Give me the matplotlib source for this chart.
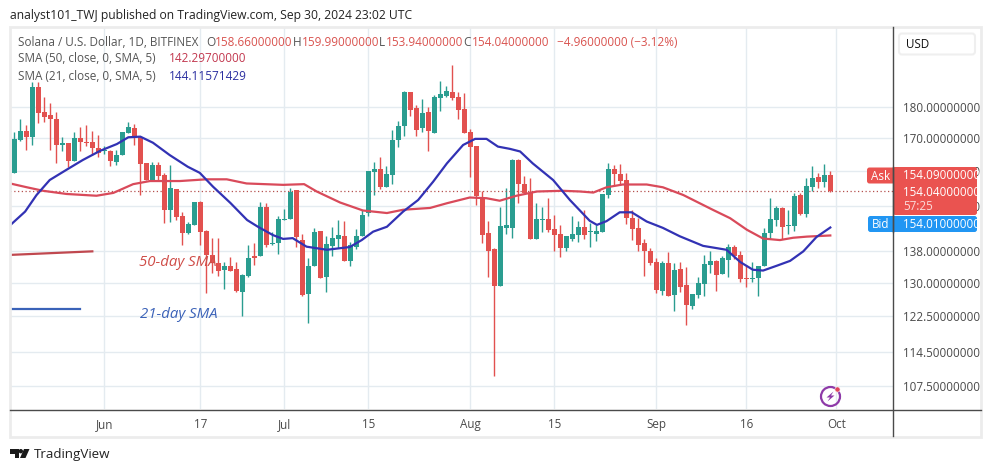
import matplotlib
matplotlib.use("Agg")
import matplotlib.pyplot as plt
from matplotlib.patches import FancyBboxPatch, Rectangle, Circle, Polygon
from matplotlib.ticker import NullLocator

opens = [159.3,169.2,172.3,170.2,186.6,178.2,177.4,175.9,167.8,168.5,163.0,169.9,168.8,168.7,166.8,165.9,166.0,162.7,164.7,171.6,
         173.2,170.2,162.2,157.3,161.7,158.8,148.9,154.7,147.2,142.6,144.8,151.0,143.3,137.0,135.0,133.3,134.3,133.5,128.0,131.8,
         136.6,136.6,149.6,139.8,140.0,146.2,146.3,154.3,140.8,127.5,134.1,143.2,131.6,139.3,141.1,141.8,135.5,139.1,141.8,148.0,
         159.5,160.6,155.4,158.8,169.2,173.8,185.0,179.6,173.0,178.3,171.6,183.1,183.8,185.0,183.3,179.3,171.8,167.5,152.4,142.6,
         138.6,129.4,144.0,144.0,163.2,156.1,153.7,141.1,146.2,146.3,143.8,142.3,138.8,141.0,142.2,144.3,142.9,142.5,142.9,153.0,
         160.6,159.1,157.3,146.6,144.0,140.0,138.0,135.1,128.2,134.9,127.2,133.5,129.6,124.6,127.2,129.8,134.5,135.5,132.3,135.7,
         139.0,137.0,131.3,131.1,131.3,134.1,142.6,146.1,149.5,144.6,144.5,153.0,147.8,155.4,158.2,156.7,158.66]
highs = [172.0,176.1,174.1,188.4,188.6,183.4,181.3,178.4,170.4,168.5,172.0,173.3,174.1,172.3,170.9,167.5,166.1,166.3,171.9,175.1,
         174.4,170.3,162.4,162.7,162.7,159.4,161.7,154.8,148.4,145.6,151.1,151.2,143.5,141.3,141.3,135.3,136.4,135.1,132.3,139.4,
         140.0,151.0,150.9,143.0,147.3,149.0,155.0,154.5,142.4,136.1,144.0,143.3,141.8,144.3,146.1,145.9,140.4,143.8,148.9,159.9,
         162.5,164.0,161.5,172.5,175.4,185.5,185.0,180.7,182.6,179.9,184.0,188.8,187.1,194.5,184.9,184.6,172.7,167.6,154.0,145.9,
         138.7,149.6,155.0,163.4,163.4,158.5,157.8,150.7,149.6,152.1,147.5,144.8,141.9,147.2,145.9,148.9,145.3,144.8,153.4,162.2,
         161.7,162.0,159.4,148.9,146.6,141.0,138.8,136.1,135.5,137.7,134.9,135.3,133.9,127.5,131.6,136.9,137.9,135.6,136.7,139.8,
         139.5,137.9,134.5,135.3,134.3,144.0,152.1,149.8,149.6,148.9,153.7,153.7,158.0,161.5,159.3,161.9,159.99]
lows = [159.3,168.9,166.3,167.8,174.8,175.1,166.3,162.4,165.8,161.2,163.0,165.8,167.6,164.7,164.0,165.1,161.5,161.7,164.7,171.5,
        167.8,153.0,157.3,157.1,157.3,145.2,145.5,146.1,139.5,142.5,144.8,139.5,127.7,132.6,131.8,128.7,132.9,128.0,122.5,131.6,
        134.5,136.6,139.1,139.5,137.2,146.1,146.3,139.1,127.1,120.9,134.1,131.4,128.0,136.6,138.7,135.5,134.1,138.6,141.8,147.3,
        152.9,154.7,155.2,156.2,167.3,170.6,177.0,170.6,171.8,165.8,171.6,178.7,183.4,182.3,175.9,171.6,158.3,150.3,140.0,131.5,
        109.5,129.4,142.5,141.4,150.9,153.5,141.1,141.1,143.0,142.8,137.9,136.4,137.9,140.6,140.4,141.0,138.9,140.6,142.9,152.3,
        155.6,155.9,145.0,140.8,138.0,131.8,134.5,127.7,127.2,127.1,123.6,128.0,120.4,123.9,126.6,127.1,132.6,128.2,132.3,131.6,
        135.9,130.4,129.1,130.2,127.1,134.1,141.0,144.5,141.0,142.4,143.3,147.5,146.8,154.0,155.0,155.4,153.94]
closes = [169.6,172.3,170.2,186.6,178.1,176.8,176.0,167.8,168.4,163.0,169.9,168.6,168.4,166.8,165.3,166.3,163.0,164.7,171.8,173.3,
          169.9,162.0,157.3,161.7,158.5,148.9,155.0,147.0,142.6,145.0,151.0,143.0,137.0,134.9,133.1,134.3,133.1,128.2,132.0,136.1,
          136.3,149.6,139.5,140.0,146.3,146.5,153.9,141.6,127.2,134.3,142.9,131.4,139.7,141.3,142.1,135.5,139.4,141.8,147.5,159.8,
          160.6,155.2,159.1,169.4,173.8,185.1,179.0,172.5,177.9,172.2,183.3,184.3,185.2,183.0,179.0,171.6,167.3,152.6,142.1,138.1,
          129.4,144.5,144.8,163.2,156.2,153.5,141.1,146.4,146.4,143.5,142.2,138.8,141.8,142.5,144.3,142.1,143.1,143.2,153.3,160.6,
          159.0,157.1,146.7,143.8,139.5,137.9,134.9,128.4,135.0,127.1,133.3,129.2,124.8,127.4,130.0,134.6,135.5,132.0,136.3,139.0,
          136.7,131.0,131.1,131.3,134.2,142.6,146.3,149.5,144.3,144.8,152.8,147.7,155.5,157.8,156.8,158.8,154.04]

sma21_x = [-0.7,1.8,3.7,5.9,8.7,11.4,14.3,17.1,19,21,23.1,25.9,28.9,30.9,33.1,36,38.8,40.6,43.1,44.8,46.4,48.7,52.1,55.9,57.9,59.8,62.1,
           64.8,67.3,69.8,72.1,74.8,76.8,78.7,80.6,82.6,84.3,86.4,89.8,92.6,95.9,97.1,98.7,100.9,102.9,105.4,108.1,110.9,114.8,118.7,
           121,123.1,124.8,127.1,129.3,131.5,133.7,136]
sma21_y = [144.7,148.4,153.0,157.3,160.3,163.2,166.0,168.1,170.2,170.4,168.5,164.7,161.2,159.4,155.4,150.8,146.1,144.3,142.1,141.1,141.3,
           139.1,138.3,139.0,140.8,143.0,144.3,148.4,151.6,156.8,162.2,167.8,169.7,169.7,167.3,166.6,165.8,162.2,157.3,151.6,145.9,144.8,
           145.8,148.2,148.2,145.7,144.0,141.8,139.3,138.3,135.2,133.3,133.1,134.3,135.5,137.9,141.6,144.1]
sma50_x = [-0.7,2.1,4.8,8.7,13.7,16.5,19.8,22.6,27.6,32,35.4,38.7,44.8,48.3,50.4,54.3,58.1,62.1,64.8,69.3,72.1,75.9,78.7,80.9,83.7,87.1,
           91.4,94.3,96.5,98.7,101.4,105.4,108.1,111.5,116.4,119.3,122.1,124.8,127.6,129.8,132.1,136]
sma50_y = [156.3,155.2,154.2,153.3,152.8,153.6,156.1,157.0,157.0,157.5,157.5,156.3,155.9,156.1,154.0,150.9,148.7,148.0,148.9,149.4,150.7,
           152.3,152.1,151.4,152.8,154.0,154.2,154.0,153.7,155.2,156.0,156.0,155.2,153.0,148.9,146.6,143.5,141.2,140.8,141.4,141.7,142.0]

xtick_pos = [15,31,45,59,76,90,107,122,137]
xtick_labels = ["Jun","17","Jul","15","Aug","15","Sep","16","Oct"]
ytick_vals = [107.5,114.5,122.5,130,138,150,160,170,180]

UP = "#2a9d90"; DOWN = "#e2514f"
FONT = "Open Sans"
plt.rcParams["font.family"] = FONT

W, H = 991, 472
fig = plt.figure(figsize=(W/100, H/100), dpi=100, facecolor="white")
ax = fig.add_axes([10/W, (H-409)/H, (893-10)/W, (409-27)/H])
ax.set_facecolor("white")
ax.set_yscale("log")
ax.set_xlim(-0.722, 146.45)
ax.set_ylim(103.1, 208.6)
ax.yaxis.set_minor_locator(NullLocator())
ax.set_yticks(ytick_vals)
ax.set_yticklabels([f"{v:.8f}" for v in ytick_vals])
ax.set_xticks(xtick_pos)
ax.set_xticklabels(xtick_labels)
ax.yaxis.tick_right()
ax.tick_params(axis="both", which="both", length=0, labelsize=8.4, labelcolor="#4a4a4a")
ax.tick_params(axis="y", pad=7.5)
ax.tick_params(axis="x", pad=6.5)
ax.grid(True, color="#e4ebf0", lw=1.0)
ax.set_axisbelow(True)
for s in ax.spines.values():
    s.set_visible(False)

for i, (o, h, l, c) in enumerate(zip(opens, highs, lows, closes)):
    col = UP if c >= o else DOWN
    ax.vlines(i, l, h, color=col, lw=1.0, zorder=2)
    ax.bar(i, max(abs(c-o), 0.25), bottom=min(o, c), width=0.78, color=col, lw=0, zorder=3)

ax.axhline(closes[-1], color="#b5504e", lw=0.9, ls=(0, (1, 2)), zorder=2)
ax.plot(sma50_x, sma50_y, color="#d94a5a", lw=1.6, zorder=4, solid_joinstyle="round", clip_on=True)
ax.plot(sma21_x, sma21_y, color="#3232b4", lw=1.6, zorder=5, solid_joinstyle="round")

# leftover drawn lines and their labels
ax.plot([-0.7, 13], [137.0, 137.9], color="#c0484f", lw=1.6, zorder=4)
ax.plot([-0.7, 11], [123.9, 123.9], color="#3a62b8", lw=1.6, zorder=4)
ax.text(20.7, 135.2, "50-day SMA", color="#cf4d48", style="italic", fontsize=10.8, va="center", ha="left", zorder=6)
ax.text(21.0, 122.8, "21-day SMA", color="#3b62b8", style="italic", fontsize=10.8, va="center", ha="left", zorder=6)

# overlay in picture pixels for the frame, header, flags and logo
ov = fig.add_axes([0, 0, 1, 1], zorder=10)
ov.set_xlim(0, W); ov.set_ylim(H, 0); ov.axis("off"); ov.patch.set_alpha(0)

ov.add_patch(Rectangle((10, 27), 971, 409.5, fill=False, ec="#ececec", lw=2))
ov.plot([893, 893], [27, 436], color="#4a4a4a", lw=1.0)
ov.plot([10, 981], [409.5, 409.5], color="#4a4a4a", lw=1.0)

ov.text(10, 15, "analyst101_TWJ published on TradingView.com, Sep 30, 2024 23:02 UTC",
        fontsize=8.75, color="#222222", va="center", ha="left")

GREY = "#555555"; RED = "#d9534f"
ov.text(18, 42, "Solana / U.S. Dollar, 1D, BITFINEX", fontsize=8.5, color=GREY, va="center")
for lx, lab, vx, val in [(206, "O", 215, "158.66000000"), (293, "H", 302, "159.99000000"),
                         (379, "L", 386, "153.94000000"), (463, "C", 472, "154.04000000")]:
    ov.text(lx, 42, lab, fontsize=8.5, color=GREY, va="center")
    ov.text(vx, 42, val, fontsize=8.5, color=RED, va="center")
ov.text(557, 42, "\u22124.96000000 (\u22123.12%)", fontsize=8.5, color=RED, va="center")
ov.text(18, 59, "SMA (50, close, 0, SMA, 5)", fontsize=8.5, color=GREY, va="center")
ov.text(169, 59, "142.29700000", fontsize=8.5, color="#c2384f", va="center")
ov.text(18, 76, "SMA (21, close, 0, SMA, 5)", fontsize=8.5, color=GREY, va="center")
ov.text(169, 76, "144.11571429", fontsize=8.5, color="#2a2ea0", va="center")

ov.add_patch(FancyBboxPatch((899, 33.5), 76, 21, boxstyle="round,pad=0,rounding_size=3", fc="white", ec="#efefef", lw=1.5))
ov.text(906, 44, "USD", fontsize=8.4, color="#111111", va="center")

FLAG_R = "#ea5350"; FLAG_B = "#2196f3"
ov.add_patch(FancyBboxPatch((867, 167.5), 30, 16, boxstyle="round,pad=0,rounding_size=2.5", fc=FLAG_R, ec="none"))
ov.add_patch(FancyBboxPatch((893, 167), 84, 48, boxstyle="round,pad=0,rounding_size=2.5", fc=FLAG_R, ec="none"))
ov.add_patch(FancyBboxPatch((868, 216), 30, 16, boxstyle="round,pad=0,rounding_size=2.5", fc=FLAG_B, ec="none"))
ov.add_patch(FancyBboxPatch((893, 216), 84, 16, boxstyle="round,pad=0,rounding_size=2.5", fc=FLAG_B, ec="none"))
ov.plot([893, 893], [167, 232], color="#4a4a4a", lw=1.0)
ov.text(871, 176, "Ask", fontsize=8.4, color="white", va="center")
ov.text(872, 224, "Bid", fontsize=8.4, color="white", va="center")
ov.text(903, 175.5, "154.09000000", fontsize=8.4, color="white", va="center")
ov.text(903, 192.5, "154.04000000", fontsize=8.4, color="white", va="center")
ov.text(903, 206.5, "57:25", fontsize=8.4, color="#fbdad9", va="center")
ov.text(903, 224, "154.01000000", fontsize=8.4, color="white", va="center")

# lightning badge
ov.add_patch(Circle((830.5, 396.5), 9.5, fill=False, ec="#8e3aa8", lw=1.6))
ov.add_patch(Polygon([(833.5, 391.5), (826.5, 397.5), (830, 397.5), (827.5, 401.5), (834.5, 395.5), (831, 395.5)],
                     closed=True, fc="#8e3aa8", ec="none"))
ov.add_patch(Circle((837.5, 389.5), 2.6, fc="#e0455a", ec="white", lw=0.4))

# TradingView mark
ink = "#1a1a1a"
ov.add_patch(Polygon([(10, 449), (19, 449), (19, 458), (14.5, 458), (14.5, 453.5), (10, 453.5)], closed=True, fc=ink, ec="none"))
ov.add_patch(Circle((20.8, 451.2), 2.2, fc=ink, ec="none"))
ov.add_patch(Polygon([(24, 449), (29.5, 449), (25.5, 458), (20, 458)], closed=True, fc=ink, ec="none"))
ov.text(33.5, 454.5, "TradingView", fontsize=9.6, color="#222222", va="center")

fig.savefig("out.png", dpi=100, facecolor="white")
